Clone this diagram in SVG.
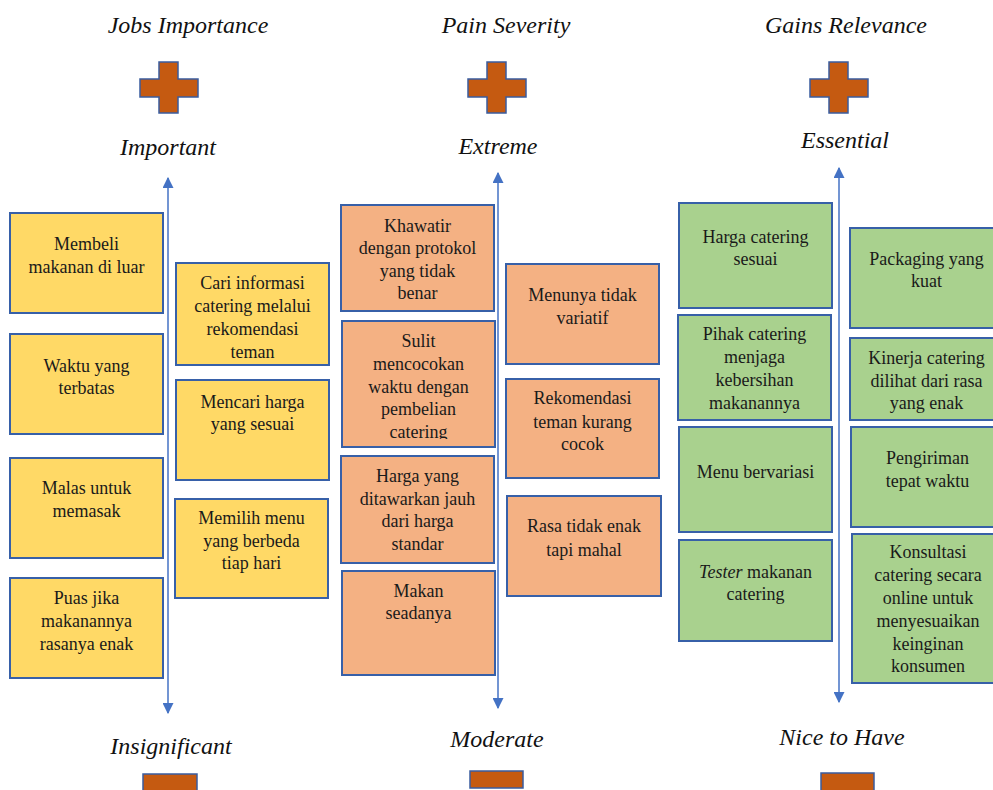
<svg xmlns="http://www.w3.org/2000/svg" width="993" height="790" viewBox="0 0 993 790">
  <defs>
    <style>
      .head { font-family: "Liberation Serif", "Times New Roman", serif; font-style: italic; font-size: 24px; fill: #111; text-anchor: middle; }
      .lbl { font-family: "Liberation Serif", "Times New Roman", serif; font-size: 18px; fill: #1a1a1a; text-anchor: middle; }
      .box { stroke: #3760A8; stroke-width: 2; }
      .job { fill: #FFD966; }
      .pain { fill: #F4B183; }
      .gain { fill: #A9D18E; }
      .sign { fill: #C55A11; stroke: #3A5C9E; stroke-width: 1.5; }
      .axis { stroke: #4472C4; stroke-width: 1.5; fill: none; }
    </style>
    <marker id="arrow" viewBox="0 0 10 10" refX="9" refY="5" markerWidth="11" markerHeight="11" markerUnits="userSpaceOnUse" orient="auto-start-reverse">
      <path d="M0,0 L10,5 L0,10 Z" fill="#4472C4"/>
    </marker>
    <!-- plus sign, drawn around its centre -->
    <path id="plus" class="sign" d="M-10,-25.5 H9 V-8.5 H29 V9.5 H9 V25.5 H-10 V9.5 H-29 V-8.5 H-10 Z"/>
    <clipPath id="clipSulit"><rect x="342" y="321" width="153" height="118"/></clipPath>
  </defs>

  <!-- column headings -->
  <g id="headings">
    <text class="head" x="188" y="33">Jobs Importance</text>
    <text class="head" x="506" y="33">Pain Severity</text>
    <text class="head" x="846" y="33">Gains Relevance</text>
    <text class="head" x="168" y="155">Important</text>
    <text class="head" x="498" y="154">Extreme</text>
    <text class="head" x="845" y="148">Essential</text>
    <text class="head" x="171" y="754">Insignificant</text>
    <text class="head" x="497" y="747">Moderate</text>
    <text class="head" x="842" y="745">Nice to Have</text>
  </g>

  <!-- plus / minus signs -->
  <g id="signs">
    <use href="#plus" x="169" y="87.5"/>
    <use href="#plus" x="497" y="87.5"/>
    <use href="#plus" x="839" y="87.5"/>
    <rect class="sign" x="143" y="774" width="54" height="18"/>
    <rect class="sign" x="470" y="771" width="53" height="17"/>
    <rect class="sign" x="821" y="773" width="53" height="18"/>
  </g>

  <!-- double-headed axes -->
  <g id="connectors">
    <line class="axis" x1="168" y1="178" x2="168" y2="713" marker-start="url(#arrow)" marker-end="url(#arrow)"/>
    <line class="axis" x1="498" y1="173" x2="498" y2="708" marker-start="url(#arrow)" marker-end="url(#arrow)"/>
    <line class="axis" x1="839" y1="168" x2="839" y2="702" marker-start="url(#arrow)" marker-end="url(#arrow)"/>
  </g>

  <!-- Jobs -->
  <g id="job-1"><rect class="box job" x="10" y="213" width="153" height="100"/>
    <text class="lbl" x="86.5" y="250">Membeli</text><text class="lbl" x="86.5" y="273">makanan di luar</text></g>
  <g id="job-2"><rect class="box job" x="10" y="334" width="153" height="100"/>
    <text class="lbl" x="86.5" y="372">Waktu yang</text><text class="lbl" x="86.5" y="394">terbatas</text></g>
  <g id="job-3"><rect class="box job" x="10" y="458" width="153" height="100"/>
    <text class="lbl" x="86.5" y="494">Malas untuk</text><text class="lbl" x="86.5" y="517">memasak</text></g>
  <g id="job-4"><rect class="box job" x="10" y="578" width="153" height="100"/>
    <text class="lbl" x="86.5" y="604">Puas jika</text><text class="lbl" x="86.5" y="627">makanannya</text><text class="lbl" x="86.5" y="650">rasanya enak</text></g>
  <g id="job-5"><rect class="box job" x="176" y="263" width="153" height="102"/>
    <text class="lbl" x="252.5" y="289">Cari informasi</text><text class="lbl" x="252.5" y="312">catering melalui</text><text class="lbl" x="252.5" y="335">rekomendasi</text><text class="lbl" x="252.5" y="358">teman</text></g>
  <g id="job-6"><rect class="box job" x="176" y="380" width="153" height="100"/>
    <text class="lbl" x="252.5" y="408">Mencari harga</text><text class="lbl" x="252.5" y="430">yang sesuai</text></g>
  <g id="job-7"><rect class="box job" x="175" y="499" width="153" height="99"/>
    <text class="lbl" x="251.5" y="524">Memilih menu</text><text class="lbl" x="251.5" y="547">yang berbeda</text><text class="lbl" x="251.5" y="569">tiap hari</text></g>

  <!-- Pains -->
  <g id="pain-1"><rect class="box pain" x="341" y="205" width="153" height="106"/>
    <text class="lbl" x="417.5" y="232">Khawatir</text><text class="lbl" x="417.5" y="254">dengan protokol</text><text class="lbl" x="417.5" y="277">yang tidak</text><text class="lbl" x="417.5" y="299">benar</text></g>
  <g id="pain-2"><rect class="box pain" x="342" y="321" width="153" height="126"/>
    <g clip-path="url(#clipSulit)">
    <text class="lbl" x="418.5" y="347">Sulit</text><text class="lbl" x="418.5" y="370">mencocokan</text><text class="lbl" x="418.5" y="393">waktu dengan</text><text class="lbl" x="418.5" y="415">pembelian</text><text class="lbl" x="418.5" y="438">catering</text></g></g>
  <g id="pain-3"><rect class="box pain" x="341" y="456" width="153" height="107"/>
    <text class="lbl" x="417.5" y="482">Harga yang</text><text class="lbl" x="417.5" y="505">ditawarkan jauh</text><text class="lbl" x="417.5" y="527">dari harga</text><text class="lbl" x="417.5" y="550">standar</text></g>
  <g id="pain-4"><rect class="box pain" x="342" y="571" width="153" height="104"/>
    <text class="lbl" x="418.5" y="597">Makan</text><text class="lbl" x="418.5" y="619">seadanya</text></g>
  <g id="pain-5"><rect class="box pain" x="506" y="264" width="153" height="100"/>
    <text class="lbl" x="582.5" y="301">Menunya tidak</text><text class="lbl" x="582.5" y="324">variatif</text></g>
  <g id="pain-6"><rect class="box pain" x="506" y="379" width="153" height="99"/>
    <text class="lbl" x="582.5" y="404">Rekomendasi</text><text class="lbl" x="582.5" y="428">teman kurang</text><text class="lbl" x="582.5" y="450">cocok</text></g>
  <g id="pain-7"><rect class="box pain" x="507" y="496" width="154" height="100"/>
    <text class="lbl" x="584" y="532">Rasa tidak enak</text><text class="lbl" x="584" y="556">tapi mahal</text></g>

  <!-- Gains -->
  <g id="gain-1"><rect class="box gain" x="679" y="203" width="153" height="105"/>
    <text class="lbl" x="755.5" y="243">Harga catering</text><text class="lbl" x="755.5" y="265">sesuai</text></g>
  <g id="gain-2"><rect class="box gain" x="678" y="315" width="153" height="105"/>
    <text class="lbl" x="754.5" y="340">Pihak catering</text><text class="lbl" x="754.5" y="363">menjaga</text><text class="lbl" x="754.5" y="386">kebersihan</text><text class="lbl" x="754.5" y="409">makanannya</text></g>
  <g id="gain-3"><rect class="box gain" x="679" y="427" width="153" height="105"/>
    <text class="lbl" x="755.5" y="478">Menu bervariasi</text></g>
  <g id="gain-4"><rect class="box gain" x="679" y="540" width="153" height="101"/>
    <text class="lbl" x="755.5" y="578"><tspan font-style="italic">Tester</tspan> makanan</text><text class="lbl" x="755.5" y="600">catering</text></g>
  <g id="gain-5"><rect class="box gain" x="850" y="228" width="153" height="100"/>
    <text class="lbl" x="926.5" y="265">Packaging yang</text><text class="lbl" x="926.5" y="287">kuat</text></g>
  <g id="gain-6"><rect class="box gain" x="850" y="338" width="153" height="82"/>
    <text class="lbl" x="926.5" y="364">Kinerja catering</text><text class="lbl" x="926.5" y="387">dilihat dari rasa</text><text class="lbl" x="926.5" y="409">yang enak</text></g>
  <g id="gain-7"><rect class="box gain" x="851" y="427" width="153" height="100"/>
    <text class="lbl" x="927.5" y="464">Pengiriman</text><text class="lbl" x="927.5" y="487">tepat waktu</text></g>
  <g id="gain-8"><rect class="box gain" x="852" y="534" width="153" height="149"/>
    <text class="lbl" x="928" y="558">Konsultasi</text><text class="lbl" x="928" y="581">catering secara</text><text class="lbl" x="928" y="604">online untuk</text><text class="lbl" x="928" y="627">menyesuaikan</text><text class="lbl" x="928" y="650">keinginan</text><text class="lbl" x="928" y="672">konsumen</text></g>
</svg>
